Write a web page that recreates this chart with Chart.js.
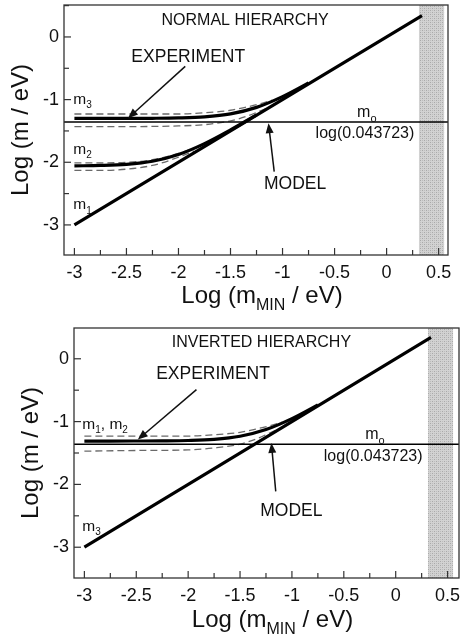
<!DOCTYPE html>
<html>
<head>
<meta charset="utf-8">
<script src="https://cdn.jsdelivr.net/npm/chart.js@4.4.1/dist/chart.umd.min.js"></script>
<style>
  body { margin: 0; background: #fff; }
  .box { position: relative; width: 460px; height: 317px; }
</style>
</head>
<body>
<div class="box"><canvas id="normal"></canvas></div>
<div class="box"><canvas id="inverted"></canvas></div>
<script>
// values (log10 of masses in eV)
const mZero = -1.359;                       // log(0.043723)
const diagX = [-3, 0.34];                   // lightest mass, m = m_MIN
const shadeX = [0.31, 0.555];               // excluded region

const curveX = [-3, -2.75, -2.5, -2.25, -2, -1.75, -1.5, -1.25, -1, -0.75];
const normalM3 = [-1.301, -1.301, -1.300, -1.298, -1.292, -1.275, -1.228, -1.124, -0.952, -0.734];
const invertedM12 = [-1.310, -1.310, -1.309, -1.307, -1.301, -1.283, -1.234, -1.127, -0.953, -0.735];

const m2X = [-3, -2.75, -2.5, -2.25, -2, -1.75, -1.5, -1.25];
const normalM2 = [-2.057, -2.051, -2.033, -1.984, -1.877, -1.703, -1.484, -1.245];

// experimental bands (dashed)
const bandX = [-3, -2.5, -2, -1.75, -1.5, -1.35, -1.2, -1.1];
const normalM3Upper = [-1.23, -1.23, -1.23, -1.21, -1.17, -1.12, -1.06, -1.01];
const normalM3Lower = [-1.43, -1.43, -1.42, -1.40, -1.34, -1.27, -1.17, -1.10];
const invertedUpper = [-1.23, -1.23, -1.23, -1.21, -1.17, -1.12, -1.06, -1.01];
const invertedLower = [-1.47, -1.46, -1.45, -1.42, -1.36, -1.28, -1.17, -1.10];

const m2BandX = [-3, -2.75, -2.5, -2.25, -2, -1.85];
const normalM2Upper = [-2.01, -2.01, -2.00, -1.96, -1.86, -1.77];
const normalM2Lower = [-2.13, -2.13, -2.11, -2.05, -1.92, -1.82];

const yLabels = [0, -1, -2, -3];
const xLabelStep = 0.5;

const FONT = '"Liberation Sans", Arial, sans-serif';

function pts(xs, ys) {
    return xs.map((x, i) => ({ x: x, y: ys[i] }));
}

// draws text with {sub} parts as subscripts, y is the text middle
function drawRich(ctx, str, x, y, size, align) {
    const parts = str.split(/(\{[^}]*\})/).filter(p => p !== '').map(p =>
        p[0] === '{' ? { t: p.slice(1, -1), sub: true } : { t: p, sub: false });
    const subSize = Math.round(size * 0.66);
    let w = 0;
    parts.forEach(p => {
        ctx.font = (p.sub ? subSize : size) + 'px ' + FONT;
        p.w = ctx.measureText(p.t).width;
        w += p.w;
    });
    let cx = align === 'left' ? x : x - w / 2;
    ctx.textAlign = 'left';
    ctx.textBaseline = 'middle';
    parts.forEach(p => {
        ctx.font = (p.sub ? subSize : size) + 'px ' + FONT;
        ctx.fillText(p.t, cx, p.sub ? y + size * 0.38 : y);
        cx += p.w;
    });
}

function makeNotes(notes) {
    return {
        id: 'notes',
        afterDatasetsDraw(chart) {
            const { ctx, chartArea: a, scales: { x, y } } = chart;
            ctx.save();
            // frame
            ctx.strokeStyle = '#333';
            ctx.lineWidth = 1.3;
            ctx.strokeRect(a.left, a.top, a.right - a.left, a.bottom - a.top);
            // inward ticks
            ctx.lineWidth = 1.2;
            x.ticks.forEach(t => {
                const px = x.getPixelForValue(t.value);
                const len = t.label !== '' ? 7 : 5;
                ctx.beginPath(); ctx.moveTo(px, a.bottom); ctx.lineTo(px, a.bottom - len); ctx.stroke();
            });
            y.ticks.forEach(t => {
                const py = y.getPixelForValue(t.value);
                const len = t.label !== '' ? 7 : 5;
                ctx.beginPath(); ctx.moveTo(a.left, py); ctx.lineTo(a.left + len, py); ctx.stroke();
            });
            // labels
            ctx.fillStyle = '#111';
            notes.texts.forEach(n => {
                drawRich(ctx, n.text, x.getPixelForValue(n.x), y.getPixelForValue(n.y), n.size, n.align);
            });
            // arrows
            ctx.strokeStyle = '#111';
            ctx.lineWidth = 1.5;
            notes.arrows.forEach(ar => {
                const x0 = x.getPixelForValue(ar[0]), y0 = y.getPixelForValue(ar[1]);
                const x1 = x.getPixelForValue(ar[2]), y1 = y.getPixelForValue(ar[3]);
                const ang = Math.atan2(y1 - y0, x1 - x0);
                ctx.beginPath(); ctx.moveTo(x0, y0);
                ctx.lineTo(x1 - 6 * Math.cos(ang), y1 - 6 * Math.sin(ang)); ctx.stroke();
                ctx.beginPath();
                ctx.moveTo(x1, y1);
                ctx.lineTo(x1 - 10 * Math.cos(ang) + 4 * Math.sin(ang), y1 - 10 * Math.sin(ang) - 4 * Math.cos(ang));
                ctx.lineTo(x1 - 10 * Math.cos(ang) - 4 * Math.sin(ang), y1 - 10 * Math.sin(ang) + 4 * Math.cos(ang));
                ctx.closePath(); ctx.fill();
            });
            // x axis title
            drawRich(ctx, 'Log (m{MIN} / eV)', (a.left + a.right) / 2 + 6, a.bottom + notes.xTitleOffset, 24, 'center');
            ctx.restore();
        }
    };
}

function stipple() {
    const c = document.createElement('canvas');
    c.width = c.height = 4;
    const g = c.getContext('2d');
    g.fillStyle = '#d2d2d2'; g.fillRect(0, 0, 4, 4);
    g.fillStyle = '#a9a9a9'; g.fillRect(0, 0, 1, 1); g.fillRect(2, 2, 1, 1);
    g.fillStyle = '#bdbdbd'; g.fillRect(2, 0, 1, 1); g.fillRect(0, 2, 1, 1);
    return c.getContext('2d').createPattern(c, 'repeat');
}

function lineSet(data, width, color, dash) {
    return {
        data: data, showLine: true, borderColor: color, borderWidth: width,
        borderDash: dash || [], pointRadius: 0, fill: false,
        cubicInterpolationMode: 'monotone', order: 1
    };
}

function renderPanel(id, cfg) {
    const ctx = document.getElementById(id).getContext('2d');
    const thick = '#000', dashCol = '#6a6a6a';
    const datasets = [
        lineSet(pts(diagX, diagX), 3.2, thick),
        lineSet(pts([cfg.xMin, cfg.xMax], [mZero, mZero]), 1.5, thick)
    ];
    cfg.curves.forEach(c => datasets.push(lineSet(pts(c[0], c[1]), 3.2, thick)));
    cfg.bands.forEach(b => datasets.push(lineSet(pts(b[0], b[1]), 1.3, dashCol, [7, 4])));
    datasets.push({
        data: pts(shadeX, [cfg.yMax, cfg.yMax]), showLine: true, borderWidth: 0,
        pointRadius: 0, fill: 'start', backgroundColor: stipple(), order: 10
    });

    new Chart(ctx, {
        type: 'scatter',
        data: { datasets: datasets },
        options: {
            responsive: true,
            maintainAspectRatio: false,
            animation: false,
            layout: { padding: { top: cfg.padTop, right: cfg.padRight, left: 0, bottom: 0 } },
            plugins: { legend: { display: false }, tooltip: { enabled: false } },
            scales: {
                x: {
                    type: 'linear', min: cfg.xMin, max: cfg.xMax,
                    grid: { display: false, drawTicks: false },
                    border: { display: false },
                    ticks: {
                        stepSize: 0.25, includeBounds: false, autoSkip: false, maxRotation: 0,
                        padding: 7, color: '#111', font: { family: FONT, size: 18 },
                        callback: v => {
                            const r = Math.round(v * 100) / 100;
                            return Math.abs(r / xLabelStep - Math.round(r / xLabelStep)) < 1e-6 ? String(r) : '';
                        }
                    },
                    afterFit: s => { s.height = cfg.xHeight; s.paddingLeft = 0; s.paddingRight = 0; }
                },
                y: {
                    type: 'linear', min: cfg.yMin, max: cfg.yMax,
                    grid: { display: false, drawTicks: false },
                    border: { display: false },
                    ticks: {
                        stepSize: 0.5, includeBounds: false, autoSkip: false,
                        padding: 5, color: '#111', font: { family: FONT, size: 18 },
                        callback: v => {
                            const r = Math.round(v * 100) / 100;
                            return yLabels.includes(r) ? String(r) : '';
                        }
                    },
                    title: {
                        display: true, text: 'Log (m / eV)', color: '#111',
                        font: { family: FONT, size: 24 }, padding: { top: cfg.yTitlePad, bottom: 0 }
                    },
                    afterFit: s => { s.width = cfg.yWidth; s.paddingTop = 0; s.paddingBottom = 0; }
                }
            }
        },
        plugins: [makeNotes(cfg.notes)]
    });
}

renderPanel('normal', {
    xMin: -3.1, xMax: 0.59, yMin: -3.48, yMax: 0.51,
    padTop: 5, padRight: 12, xHeight: 62, yWidth: 64, yTitlePad: 7,
    curves: [[curveX, normalM3], [m2X, normalM2]],
    bands: [[bandX, normalM3Upper], [bandX, normalM3Lower], [m2BandX, normalM2Upper], [m2BandX, normalM2Lower]],
    notes: {
        xTitleOffset: 41,
        texts: [
            { text: 'NORMAL HIERARCHY', x: -1.36, y: 0.255, size: 16, align: 'center' },
            { text: 'EXPERIMENT', x: -1.906, y: -0.32, size: 17.5, align: 'center' },
            { text: 'MODEL', x: -0.879, y: -2.35, size: 17.5, align: 'center' },
            { text: 'm{o}', x: -0.19, y: -1.21, size: 16, align: 'center' },
            { text: 'log(0.043723)', x: -0.208, y: -1.536, size: 16, align: 'center' },
            { text: 'm{3}', x: -3.01, y: -1.0, size: 15.5, align: 'left' },
            { text: 'm{2}', x: -3.01, y: -1.80, size: 15.5, align: 'left' },
            { text: 'm{1}', x: -3.01, y: -2.68, size: 15.5, align: 'left' }
        ],
        arrows: [[-1.935, -0.47, -2.485, -1.297], [-1.08, -2.15, -1.135, -1.376]]
    }
});

renderPanel('inverted', {
    xMin: -3.1, xMax: 0.61, yMin: -3.49, yMax: 0.49,
    padTop: 11, padRight: 1, xHeight: 56, yWidth: 74, yTitlePad: 17,
    curves: [[curveX, invertedM12]],
    bands: [[bandX, invertedUpper], [bandX, invertedLower]],
    notes: {
        xTitleOffset: 42,
        texts: [
            { text: 'INVERTED HIERARCHY', x: -1.294, y: 0.265, size: 16, align: 'center' },
            { text: 'EXPERIMENT', x: -1.76, y: -0.25, size: 17.5, align: 'center' },
            { text: 'MODEL', x: -1.005, y: -2.43, size: 17.5, align: 'center' },
            { text: 'm{o}', x: -0.20, y: -1.21, size: 16, align: 'center' },
            { text: 'log(0.043723)', x: -0.217, y: -1.55, size: 16, align: 'center' },
            { text: 'm{1}, m{2}', x: -3.02, y: -1.05, size: 15.5, align: 'left' },
            { text: 'm{3}', x: -3.02, y: -2.67, size: 15.5, align: 'left' }
        ],
        arrows: [[-1.92, -0.49, -2.485, -1.287], [-1.156, -2.11, -1.198, -1.34]]
    }
});
</script>
</body>
</html>
